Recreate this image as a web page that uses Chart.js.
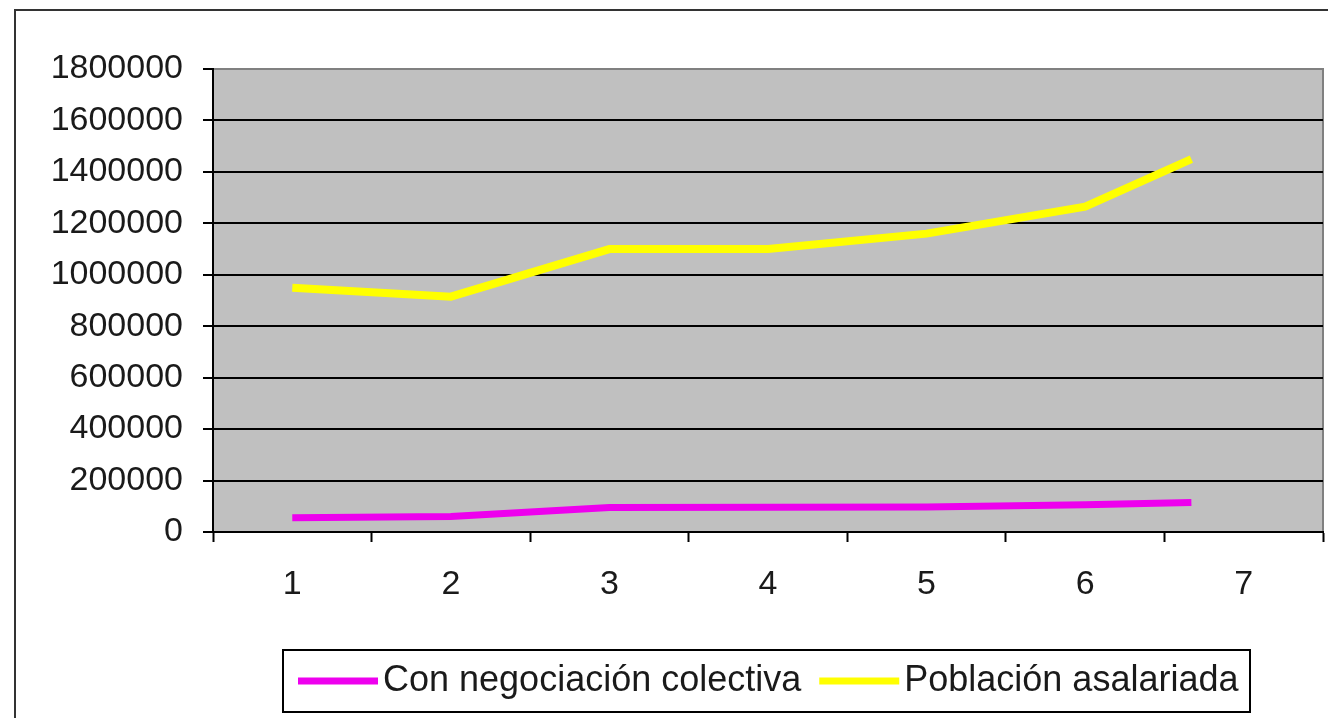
<!DOCTYPE html>
<html>
<head>
<meta charset="utf-8">
<script src="https://cdn.jsdelivr.net/npm/chart.js@4/dist/chart.umd.min.js"></script>
<style>
  html, body { margin: 0; padding: 0; background: #fff; }
  #wrap { width: 1328px; height: 718px; }
</style>
</head>
<body>
<div id="wrap"><canvas id="grafico"></canvas></div>
<script>
// datos
const posiciones = [1, 2, 3, 4, 5, 6, 6.67];
const conNegociacion = [55000, 60000, 95000, 96000, 97000, 106000, 115000];
const poblacionAsalariada = [950000, 915000, 1100000, 1100000, 1160000, 1265000, 1450000];
const etiquetasX = [1, 2, 3, 4, 5, 6, 7];
const ticksY = [0, 200000, 400000, 600000, 800000, 1000000, 1200000, 1400000, 1600000, 1800000];
const nombres = ["Con negociación colectiva", "Población asalariada"];

const FUENTE = "'Liberation Sans', Arial, sans-serif";
Chart.defaults.font.family = FUENTE;
Chart.defaults.font.size = 34;
Chart.defaults.color = "#1a1a1a";

function puntos(valores) {
  return valores.map((v, i) => ({ x: posiciones[i], y: v }));
}

// fondo gris del área y marco exterior
const fondo = {
  id: "fondo",
  beforeDraw(chart) {
    const { ctx, chartArea: a } = chart;
    ctx.save();
    ctx.fillStyle = "#fff";
    ctx.fillRect(0, 0, chart.width, chart.height);
    ctx.strokeStyle = "#333";
    ctx.lineWidth = 2;
    ctx.beginPath();
    ctx.moveTo(15, chart.height);
    ctx.lineTo(15, 10);
    ctx.lineTo(chart.width, 10);
    ctx.stroke();
    ctx.fillStyle = "#c0c0c0";
    ctx.fillRect(a.left, a.top, a.width, a.height);
    ctx.strokeStyle = "#808080";
    ctx.strokeRect(a.left, a.top, a.width, a.height);
    ctx.restore();
  }
};

// leyenda con recuadro, como en Excel
const leyenda = {
  id: "leyenda",
  afterDraw(chart) {
    const ctx = chart.ctx;
    ctx.save();
    ctx.strokeStyle = "#000";
    ctx.lineWidth = 2;
    ctx.strokeRect(283, 650, 967, 62);
    ctx.font = "36px " + FUENTE;
    ctx.textBaseline = "middle";
    ctx.fillStyle = "#1a1a1a";
    let x = 298;
    const y = 681;
    chart.data.datasets.forEach(ds => {
      ctx.strokeStyle = ds.borderColor;
      ctx.lineWidth = 7;
      ctx.beginPath();
      ctx.moveTo(x, y);
      ctx.lineTo(x + 80, y);
      ctx.stroke();
      ctx.fillText(ds.label, x + 85, y);
      x += 85 + ctx.measureText(ds.label).width + 18;
    });
    ctx.restore();
  }
};

new Chart(document.getElementById("grafico"), {
  type: "line",
  data: {
    datasets: [
      {
        label: nombres[0],
        data: puntos(conNegociacion),
        borderColor: "#ee00ee",
        borderWidth: 7,
        pointRadius: 0,
        tension: 0
      },
      {
        label: nombres[1],
        data: puntos(poblacionAsalariada),
        borderColor: "#ffff00",
        borderWidth: 8,
        pointRadius: 0,
        tension: 0
      }
    ]
  },
  options: {
    responsive: true,
    maintainAspectRatio: false,
    animation: false,
    layout: { padding: { left: 0, top: 69, right: 5, bottom: 106 } },
    plugins: { legend: { display: false }, tooltip: { enabled: false } },
    scales: {
      x: {
        type: "linear",
        min: 0.5,
        max: 7.5,
        afterBuildTicks: s => { s.ticks = etiquetasX.map(v => ({ value: v })); },
        afterFit: s => { s.height = 80; },
        ticks: { padding: 22, callback: v => String(v), maxRotation: 0 },
        grid: { offset: true, drawOnChartArea: false, drawTicks: true, tickLength: 10, tickColor: "#000", tickWidth: 2 },
        border: { color: "#000", width: 2 }
      },
      y: {
        min: 0,
        max: 1800000,
        afterBuildTicks: s => { s.ticks = ticksY.map(v => ({ value: v })); },
        afterFit: s => { s.width = 213; },
        ticks: { padding: 20, callback: v => String(v) },
        grid: {
          color: c => (c.tick && c.tick.value === 1800000 ? "#808080" : "#000"),
          lineWidth: 2,
          tickLength: 10,
          tickColor: "#000",
          tickWidth: 2
        },
        border: { color: "#000", width: 2 }
      }
    }
  },
  plugins: [fondo, leyenda]
});
</script>
</body>
</html>
